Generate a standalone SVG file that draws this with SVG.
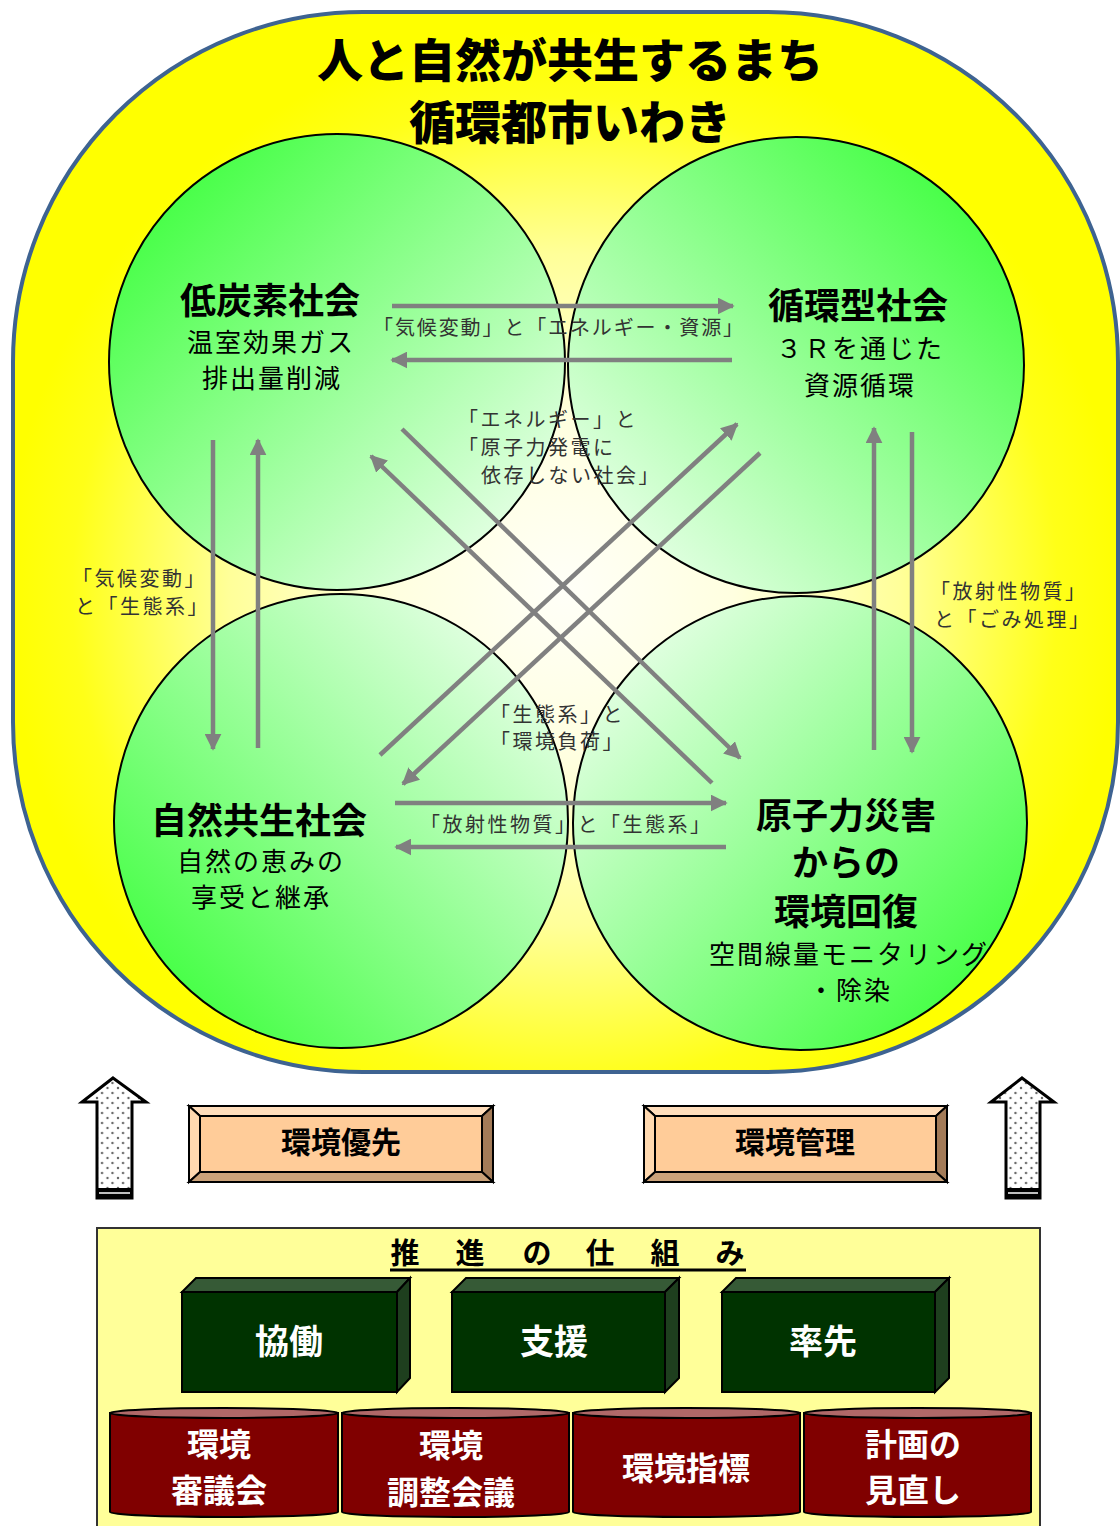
<svg xmlns="http://www.w3.org/2000/svg" width="1120" height="1526" viewBox="0 0 1120 1526">
<defs>
<radialGradient id="gy" gradientUnits="userSpaceOnUse" cx="565" cy="590" r="560">
<stop offset="0" stop-color="#FFFFF8"/>
<stop offset="0.3" stop-color="#FFFFE0"/>
<stop offset="0.6" stop-color="#FFFF99"/>
<stop offset="0.88" stop-color="#FFFF18"/>
<stop offset="1" stop-color="#FFFF00"/>
</radialGradient>
<linearGradient id="g1" x1="0.1" y1="0.1" x2="0.9" y2="0.9"><stop offset="0" stop-color="#40FF40"/><stop offset="1" stop-color="#E8FFE8"/></linearGradient>
<linearGradient id="g2" x1="0.9" y1="0.1" x2="0.1" y2="0.9"><stop offset="0" stop-color="#40FF40"/><stop offset="1" stop-color="#E8FFE8"/></linearGradient>
<linearGradient id="g3" x1="0.1" y1="0.9" x2="0.9" y2="0.1"><stop offset="0" stop-color="#40FF40"/><stop offset="1" stop-color="#E8FFE8"/></linearGradient>
<linearGradient id="g4" x1="0.9" y1="0.9" x2="0.1" y2="0.1"><stop offset="0" stop-color="#40FF40"/><stop offset="1" stop-color="#E8FFE8"/></linearGradient>
<marker id="ah" viewBox="0 0 10 10" refX="9" refY="5" markerWidth="17" markerHeight="17" markerUnits="userSpaceOnUse" orient="auto">
<path d="M0,0 L10,5 L0,10 z" fill="#808080"/>
</marker>
<pattern id="dots" width="10.5" height="10" patternUnits="userSpaceOnUse" x="97" y="1080">
<rect width="10.5" height="10" fill="#FFFFFF"/>
<circle cx="5" cy="3" r="1.2" fill="#666"/>
<circle cx="0" cy="8" r="1.2" fill="#666"/>
<circle cx="10.5" cy="8" r="1.2" fill="#666"/>
</pattern>
<style>
.cir{stroke:#000;stroke-width:2}
.h1{font-family:"Noto Sans CJK JP","Noto Sans CJK SC",sans-serif;font-weight:900;font-size:46px;fill:#000;text-anchor:middle}
.ct{font-family:"Noto Sans CJK JP","Noto Sans CJK SC",sans-serif;font-weight:700;font-size:36px;fill:#000;text-anchor:middle}
.cs{font-family:"Noto Sans CJK JP","Noto Sans CJK SC",sans-serif;font-weight:400;font-size:26px;fill:#000;text-anchor:middle;letter-spacing:2px}
.lb{font-family:"Noto Sans CJK JP","Noto Sans CJK SC",sans-serif;font-weight:400;font-size:20px;fill:#333;letter-spacing:2.5px}
.lh{font-family:"Noto Sans CJK JP","Noto Sans CJK SC",sans-serif;font-weight:400;font-size:20px;fill:#333}
.ar{stroke:#808080;stroke-width:4.5;fill:none;marker-end:url(#ah)}
.bv{stroke:#000;stroke-width:2}
.bt{font-family:"Noto Sans CJK JP","Noto Sans CJK SC",sans-serif;font-weight:700;font-size:30px;fill:#000;text-anchor:middle}
.wt{font-family:"Noto Sans CJK JP","Noto Sans CJK SC",sans-serif;font-weight:700;font-size:34px;fill:#FFF;text-anchor:middle}
.rt{font-family:"Noto Sans CJK JP","Noto Sans CJK SC",sans-serif;font-weight:700;font-size:32px;fill:#FFF;text-anchor:middle}
.gs{stroke:#000;stroke-width:2}
.cy{fill:#800000;stroke:#000;stroke-width:2}
.ct2{fill:#B06868;stroke:#000;stroke-width:2}
.up{fill:url(#dots);stroke:#000;stroke-width:3}
</style>
</defs>

<g id="background">
<rect x="13" y="12" width="1105" height="1060" rx="350" ry="350" fill="url(#gy)" stroke="#3E6391" stroke-width="4"/>
</g>

<g id="title">
<text class="h1" x="570" y="77">人と自然が共生するまち</text>
<text class="h1" x="570" y="139">循環都市いわき</text>
</g>

<g id="node-lowcarbon">
<circle class="cir" cx="337" cy="362" r="228" fill="url(#g1)"/>
<text class="ct" x="270" y="314">低炭素社会</text>
<text class="cs" x="271" y="352">温室効果ガス</text>
<text class="cs" x="272" y="388">排出量削減</text>
</g>
<g id="node-recycle">
<circle class="cir" cx="796" cy="365" r="228" fill="url(#g2)"/>
<text class="ct" x="858" y="319">循環型社会</text>
<text class="cs" x="860" y="358">３Ｒを通じた</text>
<text class="cs" x="860" y="395">資源循環</text>
</g>
<g id="node-nature">
<circle class="cir" cx="341" cy="821" r="227" fill="url(#g3)"/>
<text class="ct" x="259" y="834">自然共生社会</text>
<text class="cs" x="261" y="871">自然の恵みの</text>
<text class="cs" x="261" y="907">享受と継承</text>
</g>
<g id="node-recovery">
<circle class="cir" cx="800" cy="823" r="227" fill="url(#g4)"/>
<text class="ct" x="846" y="829">原子力災害</text>
<text class="ct" x="846" y="876">からの</text>
<text class="ct" x="846" y="925">環境回復</text>
<text class="cs" x="849" y="964">空間線量モニタリング</text>
<text class="cs" x="850" y="1000">・除染</text>
</g>

<g id="connectors">
<line class="ar" x1="392" y1="306" x2="733" y2="306"/>
<line class="ar" x1="732" y1="360" x2="392" y2="360"/>
<line class="ar" x1="213" y1="440" x2="213" y2="749"/>
<line class="ar" x1="258" y1="748" x2="258" y2="440"/>
<line class="ar" x1="874" y1="750" x2="874" y2="428"/>
<line class="ar" x1="912" y1="432" x2="912" y2="752"/>
<line class="ar" x1="395" y1="803" x2="726" y2="803"/>
<line class="ar" x1="726" y1="847" x2="396" y2="847"/>
<line class="ar" x1="380" y1="755" x2="737" y2="424"/>
<line class="ar" x1="760" y1="453" x2="403" y2="784"/>
<line class="ar" x1="402" y1="429" x2="740" y2="758"/>
<line class="ar" x1="712" y1="783" x2="371" y2="456"/>
</g>

<g id="connector-labels">
<text class="lh" x="373" y="335" textLength="370" lengthAdjust="spacing">「気候変動」と「エネルギー・資源」</text>
<text class="lb" x="72" y="586">「気候変動」</text>
<text class="lb" x="75" y="614">と「生態系」</text>
<text class="lb" x="930" y="599">「放射性物質」</text>
<text class="lb" x="934" y="627">と「ごみ処理」</text>
<text class="lh" x="420" y="832" textLength="290" lengthAdjust="spacing">「放射性物質」と「生態系」</text>
<text class="lb" x="458" y="427">「エネルギー」と</text>
<text class="lb" x="458" y="455">「原子力発電に</text>
<text class="lb" x="481" y="483">依存しない社会」</text>
<text class="lb" x="490" y="722">「生態系」と</text>
<text class="lb" x="490" y="749">「環境負荷」</text>
</g>

<g id="arrow-left">
<path class="up" d="M113,1078 L146,1102 L132,1102 L132,1198 L97,1198 L97,1102 L82,1102 Z"/>
<rect x="97" y="1188" width="35" height="11" fill="#000"/>
<line x1="99" y1="1193" x2="130" y2="1193" stroke="#FFF" stroke-width="1.5"/>
</g>
<g id="arrow-right">
<path class="up" d="M1022,1078 L1054,1102 L1040,1102 L1040,1198 L1006,1198 L1006,1102 L991,1102 Z"/>
<rect x="1006" y="1188" width="34" height="11" fill="#000"/>
<line x1="1008" y1="1193" x2="1038" y2="1193" stroke="#FFF" stroke-width="1.5"/>
</g>

<g id="box-priority">
<rect x="189" y="1106" width="304" height="76" fill="#FFCC99"/>
<polygon class="bv" points="189,1106 493,1106 482,1116 200,1116" fill="#FFDDBB"/>
<polygon class="bv" points="189,1106 200,1116 200,1172 189,1182" fill="#FFD9B0"/>
<polygon class="bv" points="493,1106 493,1182 482,1172 482,1116" fill="#A37B58"/>
<polygon class="bv" points="189,1182 200,1172 482,1172 493,1182" fill="#CCA37A"/>
<rect class="bv" x="200" y="1116" width="282" height="56" fill="#FFCC99"/>
<rect x="189" y="1106" width="304" height="76" fill="none" stroke="#000" stroke-width="2"/>
<text class="bt" x="341" y="1153">環境優先</text>
</g>
<g id="box-management">
<rect x="644" y="1106" width="303" height="76" fill="#FFCC99"/>
<polygon class="bv" points="644,1106 947,1106 936,1116 655,1116" fill="#FFDDBB"/>
<polygon class="bv" points="644,1106 655,1116 655,1172 644,1182" fill="#FFD9B0"/>
<polygon class="bv" points="947,1106 947,1182 936,1172 936,1116" fill="#A37B58"/>
<polygon class="bv" points="644,1182 655,1172 936,1172 947,1182" fill="#CCA37A"/>
<rect class="bv" x="655" y="1116" width="281" height="56" fill="#FFCC99"/>
<rect x="644" y="1106" width="303" height="76" fill="none" stroke="#000" stroke-width="2"/>
<text class="bt" x="795" y="1153">環境管理</text>
</g>

<g id="panel">
<rect x="97" y="1228" width="943" height="320" fill="#FFFF99" stroke="#333" stroke-width="2"/>
<text class="bt" x="405 470 537 600 665 730" y="1264" style="font-size:29px">推進の仕組み</text>
<line x1="390" y1="1270" x2="746" y2="1270" stroke="#000" stroke-width="3"/>
</g>

<g id="node-kyodo">
<polygon class="gs" points="182,1292 196,1278 410,1278 397,1292" fill="#365A36"/>
<polygon class="gs" points="397,1292 410,1278 410,1378 397,1392" fill="#1E3F1E"/>
<rect class="gs" x="182" y="1292" width="215" height="100" fill="#003300"/>
<text class="wt" x="289" y="1354">協働</text>
</g>
<g id="node-shien">
<polygon class="gs" points="452,1292 466,1278 679,1278 665,1292" fill="#365A36"/>
<polygon class="gs" points="665,1292 679,1278 679,1378 665,1392" fill="#1E3F1E"/>
<rect class="gs" x="452" y="1292" width="213" height="100" fill="#003300"/>
<text class="wt" x="554" y="1354">支援</text>
</g>
<g id="node-sossen">
<polygon class="gs" points="722,1292 736,1278 949,1278 935,1292" fill="#365A36"/>
<polygon class="gs" points="935,1292 949,1278 949,1378 935,1392" fill="#1E3F1E"/>
<rect class="gs" x="722" y="1292" width="213" height="100" fill="#003300"/>
<text class="wt" x="823" y="1354">率先</text>
</g>

<g id="node-shingikai">
<path class="cy" d="M110,1413 L110,1512 A114,5 0 0 0 338,1512 L338,1413 Z"/>
<ellipse class="ct2" cx="224" cy="1413" rx="114" ry="5"/>
<text class="rt" x="219" y="1456">環境</text>
<text class="rt" x="219" y="1502">審議会</text>
</g>
<g id="node-chosei">
<path class="cy" d="M342,1413 L342,1512 A113.5,5 0 0 0 569,1512 L569,1413 Z"/>
<ellipse class="ct2" cx="455.5" cy="1413" rx="113.5" ry="5"/>
<text class="rt" x="451" y="1457">環境</text>
<text class="rt" x="451" y="1504">調整会議</text>
</g>
<g id="node-shihyo">
<path class="cy" d="M573,1413 L573,1512 A113.5,5 0 0 0 800,1512 L800,1413 Z"/>
<ellipse class="ct2" cx="686.5" cy="1413" rx="113.5" ry="5"/>
<text class="rt" x="686" y="1480">環境指標</text>
</g>
<g id="node-minaoshi">
<path class="cy" d="M804,1413 L804,1512 A113.5,5 0 0 0 1031,1512 L1031,1413 Z"/>
<ellipse class="ct2" cx="917.5" cy="1413" rx="113.5" ry="5"/>
<text class="rt" x="913" y="1456">計画の</text>
<text class="rt" x="913" y="1502">見直し</text>
</g>
</svg>
